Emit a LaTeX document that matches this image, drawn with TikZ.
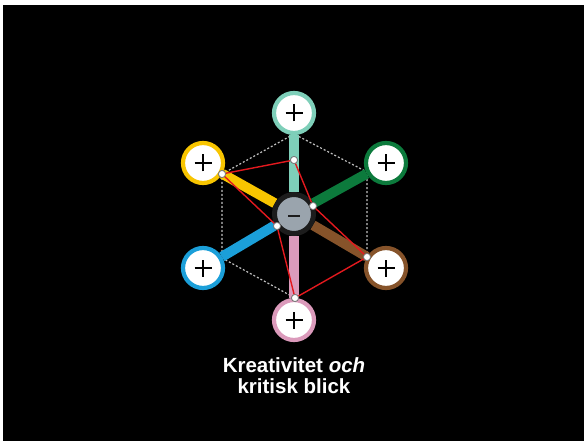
\documentclass[tikz,border=0pt]{standalone}
\usepackage{fontspec}
\setmainfont{Liberation Sans}
\definecolor{cteal}{HTML}{7ECFB9}
\definecolor{cyellow}{HTML}{F8C500}
\definecolor{cgreen}{HTML}{0C7A3C}
\definecolor{cblue}{HTML}{1B9FD9}
\definecolor{cbrown}{HTML}{86532A}
\definecolor{cpink}{HTML}{DB9ABB}
\definecolor{cgray}{HTML}{9AA4AD}
\definecolor{cred}{HTML}{E3191E}
\definecolor{cdash}{HTML}{C0C0C0}
\definecolor{cdark}{HTML}{1C1C1C}
\pgfdeclarelayer{bg}
\pgfdeclarelayer{lines}
\pgfsetlayers{bg,lines,main}
\tikzset{
  plusnode/.style={circle, fill=white, line width=4.2pt, inner sep=0pt, minimum size=40pt,
    path picture={
      \draw[line width=2pt, black]
        ([xshift=-8.5pt]path picture bounding box.center) -- ([xshift=8.5pt]path picture bounding box.center)
        ([yshift=-8.5pt]path picture bounding box.center) -- ([yshift=8.5pt]path picture bounding box.center);
    }},
  minusnode/.style={circle, fill=cgray, draw=cdark, line width=5pt, inner sep=0pt, minimum size=39pt,
    path picture={
      \draw[line width=2pt, cdark]
        ([xshift=-6pt,yshift=-2pt]path picture bounding box.center) -- ([xshift=6pt,yshift=-2pt]path picture bounding box.center);
    }},
  dotnode/.style={circle, fill=white, draw=black!55, line width=0.7pt, minimum size=7pt, inner sep=0pt},
  spoke/.style={line width=10pt, line cap=butt},
  redline/.style={draw=cred, line width=1.4pt},
  dashline/.style={draw=cdash, line width=1.2pt, dash pattern=on 2pt off 2pt},
  labeltext/.style={text=white, font=\bfseries\fontsize{20.5}{21.5}\selectfont, align=center, inner sep=0pt}
}
\begin{document}
\begin{tikzpicture}[x=1pt, y=-1pt]
\begin{pgfonlayer}{bg}
  \fill[white] (0,0) rectangle (584,441);
  \fill[black] (3,5) rectangle (584,441);
\end{pgfonlayer}
\useasboundingbox (0,0) rectangle (584,441);

% outer circles
\node[plusnode, draw=cteal]   (T)  at (294,113) {};
\node[plusnode, draw=cyellow] (Y)  at (203,163) {};
\node[plusnode, draw=cgreen]  (G)  at (386,163) {};
\node[plusnode, draw=cblue]   (B)  at (203,268) {};
\node[plusnode, draw=cbrown]  (Br) at (386,268) {};
\node[plusnode, draw=cpink]   (P)  at (294,320) {};
% center
\node[minusnode] (C) at (294,214) {};

% hexagon corners
\coordinate (hT)  at (294,134);
\coordinate (hLL) at (222,258);
\coordinate (hUR) at (367,172);

% dots
\node[dotnode] (dT)  at (294,160) {};
\node[dotnode] (dY)  at (222,174) {};
\node[dotnode] (dG)  at (313,206) {};
\node[dotnode] (dC)  at (277,226) {};
\node[dotnode] (dBr) at (367,257) {};
\node[dotnode] (dP)  at (295,298) {};

\begin{pgfonlayer}{lines}
  \draw[dashline] (dY) -- (hT) -- (hUR) -- (dBr);
  \draw[dashline] (dY) -- (hLL) -- (dP);
  \draw[spoke, cteal]   (T)  -- (C);
  \draw[spoke, cyellow] (Y)  -- (C);
  \draw[spoke, cgreen]  (G)  -- (C);
  \draw[spoke, cblue]   (B)  -- (C);
  \draw[spoke, cbrown]  (Br) -- (C);
  \draw[spoke, cpink]   (P)  -- (C);
\end{pgfonlayer}

\draw[redline] (dY) -- (dT) -- (dG) -- (dBr) -- (dP) -- (dC) -- (dY);

% redraw dots on top of red lines
\foreach \n in {dT,dY,dG,dC,dBr,dP} \node[dotnode] at (\n) {};

\node[labeltext, anchor=north] (L) at (294,357) {Kreativitet \textit{och}\\kritisk blick};
\end{tikzpicture}
\end{document}
